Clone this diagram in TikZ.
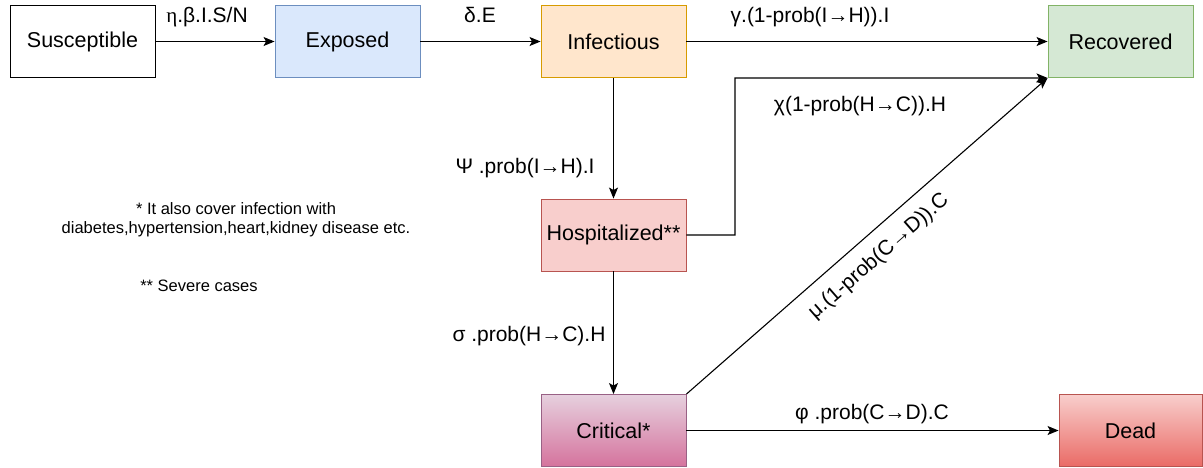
\documentclass[tikz,border=0pt]{standalone}
\usepackage{fontspec}
\setmainfont{Liberation Sans}
\newfontfamily\grserif{Liberation Serif}
\usetikzlibrary{arrows.meta}

\definecolor{expfill}{HTML}{DAE8FC}
\definecolor{expline}{HTML}{6C8EBF}
\definecolor{inffill}{HTML}{FFE6CC}
\definecolor{infline}{HTML}{D79B00}
\definecolor{recfill}{HTML}{D5E8D4}
\definecolor{recline}{HTML}{82B366}
\definecolor{hosfill}{HTML}{F8CECC}
\definecolor{hosline}{HTML}{B85450}
\definecolor{crittop}{HTML}{E6D0DE}
\definecolor{critbot}{HTML}{D5739D}
\definecolor{critline}{HTML}{996185}
\definecolor{deadbot}{HTML}{EA6B66}

\tikzset{
  box/.style={draw, line width=0.9pt, minimum width=145pt, minimum height=72pt,
    inner sep=0pt, font=\fontsize{21.5}{26}\selectfont},
  lbl/.style={anchor=base, inner sep=0pt, font=\fontsize{21}{25}\selectfont},
  note/.style={align=center, inner sep=0pt, font=\fontsize{16.5}{19}\selectfont},
  flow/.style={->, line width=1.1pt}
}

\begin{document}
\begin{tikzpicture}[x=1pt, y=-1pt, >={Stealth[length=11pt, width=9pt, inset=2.5pt]}]
			\useasboundingbox (0,0) rectangle (1203,467);
			% compartments
			\node[box] (S) at (82.5, 41.5) {Susceptible};
			\node[box, fill=expfill, draw=expline] (E) at (347.5, 41.5) {Exposed};
			\node[box, fill=inffill, draw=infline] (I) at (613.5, 41.5) {Infectious};
			\node[box, fill=recfill, draw=recline] (R) at (1120.5, 41.5) {Recovered};
			\node[box, fill=hosfill, draw=hosline] (H) at (613.5, 235) {Hospitalized**};
			\node[box, top color=crittop, bottom color=critbot, draw=critline] (C) at (613.5, 430.5) {Critical*};
			\node[box, minimum width=143pt, top color=hosfill, bottom color=deadbot, draw=hosline] (D) at (1130.5, 430.5) {Dead};
			% rates
			\node[lbl] (se) at (207, 22) {{\grserif η}.β.I.S/N};
			\node[lbl] (ei) at (480, 22) {δ.E};
			\node[lbl] (ir) at (810, 22) {γ.(1-prob(I→H)).I};
			\node[lbl] (hr) at (860, 111) {χ(1-prob(H→C)).H};
			\node[lbl] (ih) at (525, 173) {Ψ .prob(I→H).I};
			\node[lbl] (hc) at (529, 341) {σ .prob(H→C).H};
			\node[lbl] (cd) at (872, 419) {φ .prob(C→D).C};
			% footnotes
			\node[note] (n1) at (236, 219.5) {* It also cover infection with\\diabetes,hypertension,heart,kidney disease etc.};
			\node[note] (n2) at (199, 286) {** Severe cases};
			% flows
			\coordinate (bend) at (735, 78);
			\draw [flow] (S) to (E);
			\draw [flow] (E) to (I);
			\draw [flow] (I) to (R);
			\draw [flow] (I) to (H);
			\draw [flow] (H) to (C);
			\draw [flow] (C) to (D);
			\draw [flow] (H.east) -| (bend) -- (R.south west);
			\draw [flow] (C.north east) -- (R.south west)
				node[pos=0.49, sloped, below=13pt, inner sep=0pt, font=\fontsize{21}{25}\selectfont] (cr) {μ.(1-prob(C→D)).C};
\end{tikzpicture}
\end{document}
